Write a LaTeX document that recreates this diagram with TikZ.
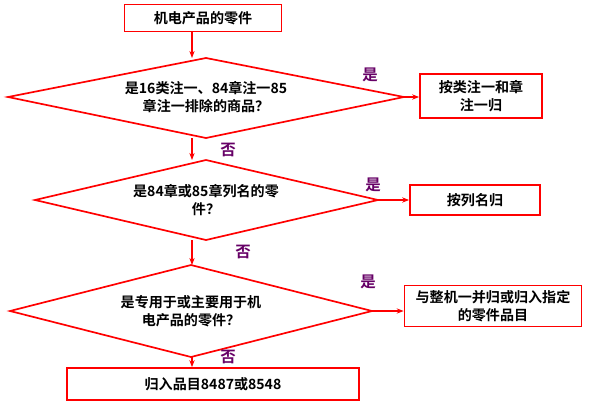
\documentclass[tikz,border=0pt]{standalone}
\usepackage{fontspec}
\newfontfamily\cjk{Noto Sans CJK SC}[BoldFont={Noto Sans CJK SC Bold}]
\usetikzlibrary{arrows.meta}

\begin{document}
\begin{tikzpicture}[x=0.025cm, y=-0.025cm, thick,
  font=\cjk\bfseries\fontsize{10}{13}\selectfont,
  box/.style={draw=red, fill=white, line width=1.2pt, align=center},
  dia/.style={draw=red, fill=white, line width=1.2pt},
  link/.style={draw=red, line width=1.2pt, -{Stealth[length=5pt]}},
  yes/.style={text=violet!80!black, font=\cjk\bfseries\fontsize{11}{12}\selectfont}]

\useasboundingbox (0,0) rectangle (600,404);

% Start
\node[box, minimum width=157*0.025cm, minimum height=27*0.025cm] (start) at (203,18) {机电产品的零件};

% Diamond 1
\draw[dia] (8,97) -- (206,58) -- (404,97) -- (206,138) -- cycle;
\coordinate (d1n) at (192,32);
\coordinate (d1e) at (404,97);
\coordinate (d1s) at (192,138);
\node[align=center] (q1) at (206,97) {是16类注一、84章注一85\\章注一排除的商品？};
\node[box, minimum width=122*0.025cm, minimum height=44*0.025cm] (r1) at (481,96) {按类注一和章\\注一归};
\node[yes] (y1) at (370,75) {是};

% Diamond 2
\draw[dia] (35,200) -- (206,160) -- (378,200) -- (206,240) -- cycle;
\coordinate (d2n) at (192,160);
\coordinate (d2e) at (378,200);
\coordinate (d2s) at (192,240);
\node[align=center] (q2) at (206,200) {是84章或85章列名的零\\件？};
\node[box, minimum width=130*0.025cm, minimum height=30*0.025cm] (r2) at (475,200) {按列名归};
\node[yes] (y2) at (373,185) {是};
\node[yes] (n1) at (228,150) {否};

% Diamond 3
\draw[dia] (10,311) -- (191,265) -- (372,311) -- (191,357) -- cycle;
\coordinate (d3n) at (192,265);
\coordinate (d3e) at (372,311);
\coordinate (d3s) at (192,357);
\node[align=center] (q3) at (191,311) {是专用于或主要用于机\\电产品的零件？};
\node[box, minimum width=177*0.025cm, minimum height=36*0.025cm] (r3) at (493,306) {与整机一并归或归入指定\\的零件品目};
\node[yes] (y3) at (368,282) {是};
\node[yes] (n2) at (243,252) {否};

% End
\node[box, minimum width=292*0.025cm, minimum height=32*0.025cm] (final) at (213,384) {归入品目8487或8548};
\node[yes] (n3) at (228,357) {否};

% Links
\draw[link] (start.south -| d1n) -- (192,58);
\draw[link] (d1e) -- (r1.west |- d1e);
\draw[link] (d1s) -- (d2n);
\draw[link] (d2e) -- (r2.west |- d2e);
\draw[link] (d2s) -- (d3n);
\draw[link] (d3e) -- (r3.west |- d3e);
\draw[link] (d3s) -- (final.north -| d3s);

\end{tikzpicture}
\end{document}
